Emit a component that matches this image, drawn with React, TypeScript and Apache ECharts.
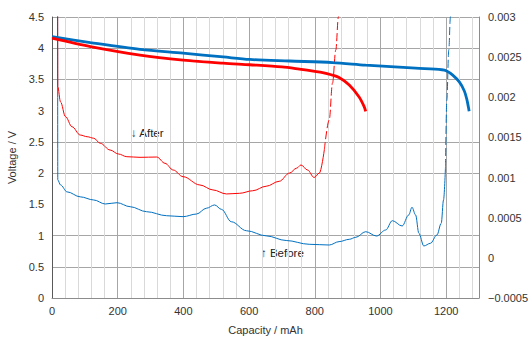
import React, { useEffect, useRef } from "react";
import * as echarts from "echarts";

// ---- Data ----
// Discharge voltage curves (left axis, V) vs capacity (mAh)
const capVoltBefore = [0, 117, 268, 399, 521, 602, 723, 854, 955, 1107, 1187, 1200, 1220, 1240, 1255, 1263, 1268, 1270];
const voltBefore = [4.185, 4.09, 3.98, 3.92, 3.86, 3.82, 3.795, 3.77, 3.73, 3.68, 3.655, 3.64, 3.57, 3.46, 3.32, 3.18, 3.05, 2.99];

const capVoltAfter = [0, 117, 268, 399, 521, 602, 700, 753, 800, 824, 850, 874, 905, 935, 950, 955];
const voltAfter = [4.16, 4.025, 3.89, 3.81, 3.76, 3.735, 3.7, 3.665, 3.63, 3.61, 3.575, 3.53, 3.41, 3.22, 3.07, 2.99];

// dV/dQ curves (right axis, V/mAh)
const capDvdqBefore = [17, 17.6, 26, 46, 86, 127, 162, 198, 238, 288, 349, 399, 440, 470, 495, 516, 546, 592, 652, 713, 783, 844, 874, 905, 925, 955, 988, 1016, 1036, 1066, 1086, 1096, 1107, 1117, 1132, 1152, 1172, 1185, 1192, 1198];
const dvdqBefore = [0.0035, 0.00097, 0.000908, 0.000822, 0.00076, 0.000721, 0.000671, 0.000687, 0.000637, 0.000575, 0.000525, 0.000513, 0.000546, 0.000618, 0.000659, 0.000604, 0.00045, 0.000338, 0.000274, 0.000216, 0.000169, 0.00016, 0.000202, 0.000231, 0.000256, 0.000326, 0.000272, 0.000347, 0.000463, 0.000397, 0.000534, 0.00063, 0.000534, 0.000306, 0.000148, 0.000181, 0.000285, 0.00043, 0.000721, 0.001133];
const capDvdqBeforeTail = [1198, 1202, 1208, 1213, 1220];
const dvdqBeforeTail = [0.001133, 0.001966, 0.002588, 0.003, 0.0037];

const capDvdqAfter = [17, 17.6, 26, 41, 61, 86, 107, 127, 147, 177, 202, 228, 268, 319, 344, 369, 399, 450, 490, 531, 571, 611, 652, 692, 723, 745, 758, 778, 798, 814, 829];
const dvdqAfter = [0.0035, 0.002132, 0.001942, 0.001759, 0.001633, 0.00153, 0.001509, 0.00149, 0.001427, 0.001343, 0.001294, 0.00126, 0.001252, 0.001256, 0.001178, 0.001094, 0.001011, 0.000908, 0.000846, 0.000796, 0.000804, 0.000836, 0.000892, 0.000954, 0.001056, 0.001118, 0.001157, 0.001094, 0.001001, 0.001056, 0.001343];
const capDvdqAfterTail = [829, 844, 854, 864, 872, 880];
const dvdqAfterTail = [0.001343, 0.001717, 0.002176, 0.002588, 0.003, 0.0036];

// Axes
const xMin = 0, xMax = 1300, xMinorStep = 40, xMajorStep = 200;
const vMin = 0, vMax = 4.5, vStep = 0.5;
const dMin = -0.0005, dMax = 0.003, dStep = 0.0005;

const labelAfter = "↓ After";
const labelBefore = "↑ Before";

const BLUE = "#0070C0";
const RED = "#FF0000";
const FONT = "Liberation Sans, Arial, sans-serif";
const TEXT = "#333333";

const zip = (xs: number[], ys: number[]) => xs.map((x, i) => [x, ys[i]]);

export default function App() {
  const ref = useRef<HTMLDivElement>(null);

  useEffect(() => {
    if (!ref.current) return;
    const chart = echarts.init(ref.current, undefined, { renderer: "svg" });

    const xGridColors = [0, 1, 2, 3, 4].map((i) => (i === 0 ? "#a6a6a6" : "#d9d9d9"));
    const yGridColors = ["#a6a6a6", "#a6a6a6", "#a6a6a6", "transparent", "#a6a6a6", "#a6a6a6", "transparent", "#a6a6a6", "#a6a6a6", "#a6a6a6"];

    const thin = (data: number[][], color: string, dashed: boolean) => ({
      type: "line",
      yAxisIndex: 1,
      data,
      symbol: "none",
      smooth: 0.35,
      smoothMonotone: "x",
      clip: true,
      lineStyle: { color, width: 1, type: dashed ? [8, 3] : "solid" },
      emphasis: { disabled: true },
    });
    const thick = (data: number[][], color: string) => ({
      type: "line",
      yAxisIndex: 0,
      data,
      symbol: "none",
      smooth: 0.3,
      clip: true,
      lineStyle: { color, width: 2.8 },
      emphasis: { disabled: true },
    });

    chart.setOption({
      animation: false,
      textStyle: { fontFamily: FONT },
      grid: { left: 52, right: 51, top: 17, bottom: 42, containLabel: false, outerBoundsMode: "none" },
      xAxis: {
        type: "value",
        min: xMin,
        max: xMax,
        interval: xMinorStep,
        name: "Capacity / mAh",
        nameLocation: "middle",
        nameGap: 26,
        nameTextStyle: { color: TEXT, fontSize: 11, fontFamily: FONT },
        axisLine: { show: true, lineStyle: { color: "#8c8c8c", width: 1 } },
        axisTick: { show: false },
        axisLabel: {
          color: TEXT,
          fontSize: 11,
          fontFamily: FONT,
          margin: 7,
          formatter: (v: number) => (v % xMajorStep === 0 ? String(v) : ""),
        },
        splitLine: { show: true, lineStyle: { color: xGridColors, width: 1 } },
      },
      yAxis: [
        {
          type: "value",
          min: vMin,
          max: vMax,
          interval: vStep,
          name: "Voltage / V",
          nameLocation: "middle",
          nameGap: 31,
          nameTextStyle: { color: TEXT, fontSize: 11, fontFamily: FONT },
          axisLine: { show: true, lineStyle: { color: "#595959", width: 1 } },
          axisTick: { show: false },
          axisLabel: { color: TEXT, fontSize: 11, fontFamily: FONT, margin: 8 },
          splitLine: { show: true, lineStyle: { color: yGridColors, width: 1 } },
        },
        {
          type: "value",
          min: dMin,
          max: dMax,
          interval: dStep,
          position: "right",
          name: "dV/dQ",
          nameLocation: "middle",
          nameRotate: -90,
          nameGap: 47,
          nameTextStyle: { color: TEXT, fontSize: 11, fontFamily: FONT },
          axisLine: { show: true, lineStyle: { color: "#8c8c8c", width: 1 } },
          axisTick: { show: false },
          axisLabel: {
            color: TEXT,
            fontSize: 11,
            fontFamily: FONT,
            margin: 9,
            formatter: (v: number) => {
              const r = Math.round(v * 1e6) / 1e6;
              return r < 0 ? "\u2212" + String(-r) : String(r);
            },
          },
          splitLine: { show: false },
        },
      ],
      series: [
        thin(zip(capDvdqBefore, dvdqBefore), BLUE, false),
        thin(zip(capDvdqBeforeTail, dvdqBeforeTail), BLUE, true),
        thin(zip(capDvdqAfter, dvdqAfter), RED, false),
        thin(zip(capDvdqAfterTail, dvdqAfterTail), RED, true),
        thick(zip(capVoltBefore, voltBefore), BLUE),
        thick(zip(capVoltAfter, voltAfter), RED),
      ],
      graphic: [
        {
          type: "text",
          left: 131,
          top: 127,
          style: { text: labelAfter, fill: "#222", fontSize: 11.5, fontFamily: FONT },
        },
        {
          type: "text",
          left: 261,
          top: 247,
          style: { text: labelBefore, fill: "#222", fontSize: 11.5, fontFamily: FONT },
        },
      ],
    });

    return () => chart.dispose();
  }, []);

  return (
    <div
      ref={ref}
      style={{ position: "fixed", left: 0, top: 0, width: 530, height: 340, background: "#fff" }}
    />
  );
}
